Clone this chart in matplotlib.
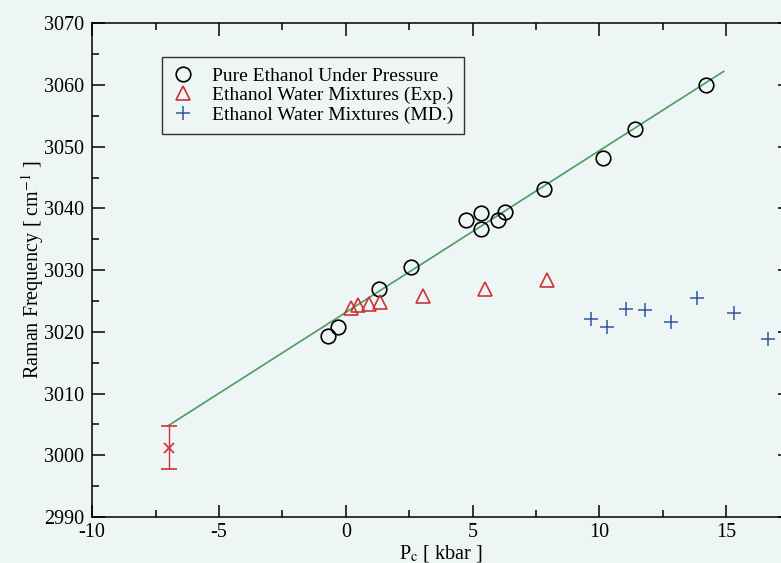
import numpy as np
import matplotlib
matplotlib.use('Agg')
import matplotlib.pyplot as plt
from matplotlib.ticker import MultipleLocator

plt.rcParams['font.family'] = ['Liberation Serif', 'DejaVu Serif']
plt.rcParams['mathtext.fontset'] = 'stix'
plt.rcParams['axes.unicode_minus'] = False

# 純乙醇加壓
pure_x = [-0.71, -0.32, 1.30, 2.57, 4.74, 5.34, 5.34, 6.00, 6.28, 7.81, 10.14, 11.42, 14.19]
pure_y = [3019.3, 3020.8, 3027.0, 3030.5, 3038.2, 3039.2, 3036.6, 3038.1, 3039.4, 3043.1, 3048.1, 3052.8, 3060.0]

# 乙醇水混合物 (實驗)
exp_x = [0.20, 0.47, 0.90, 1.34, 3.04, 5.49, 7.94]
exp_y = [3023.8, 3024.3, 3024.5, 3024.8, 3025.8, 3026.9, 3028.4]

# 乙醇水混合物 (MD)
md_x = [9.68, 10.32, 11.03, 11.78, 12.81, 13.83, 15.30, 16.64]
md_y = [3022.1, 3020.8, 3023.7, 3023.5, 3021.6, 3025.5, 3023.0, 3018.8]

# 擬合直線端點
fit_x = [-7.0, 14.9]
fit_y = [3004.8, 3062.2]

# 誤差棒點
err_x = [-6.96]
err_y = [3001.2]
err_e = [3.5]

bg = '#eef6f5'
fig = plt.figure(figsize=(7.81, 5.63), dpi=100, facecolor=bg)
ax = fig.add_axes([0.118, 0.0817, 0.893, 0.877], facecolor=bg)

ax.plot(fit_x, fit_y, color='#4f9a5e', lw=1.2, zorder=2)
ax.plot(pure_x, pure_y, 'o', ms=10.5, mfc='none', mec='black', mew=1.2,
        label='Pure Ethanol Under Pressure', zorder=3)
ax.plot(exp_x, exp_y, '^', ms=9.5, mfc='none', mec='#cc3333', mew=1.2,
        label='Ethanol Water Mixtures (Exp.)', zorder=3)
ax.plot(md_x, md_y, '+', ms=10, color='#33559e', mew=1.1,
        label='Ethanol Water Mixtures (MD.)', zorder=3)
ax.errorbar(err_x, err_y, yerr=err_e, fmt='x', color='#cc3333', ms=7, mew=1.2,
            ecolor='#cc3333', elinewidth=1.0, capsize=6, capthick=1.2, zorder=3)

ax.set_xlim(-10, 17.5)
ax.set_ylim(2990, 3070)
ax.xaxis.set_major_locator(MultipleLocator(5))
ax.xaxis.set_minor_locator(MultipleLocator(2.5))
ax.yaxis.set_major_locator(MultipleLocator(10))
ax.yaxis.set_minor_locator(MultipleLocator(5))
ax.tick_params(which='both', direction='in', top=True, right=True, labelsize=14.5, width=1.1)
ax.tick_params(which='major', length=9)
ax.tick_params(which='minor', length=5)
ax.tick_params(axis='y', pad=6)
ax.tick_params(axis='x', pad=4)
for s in ax.spines.values():
    s.set_linewidth(1.1)

ax.set_xlabel(r'P$_\mathrm{c}$ [ kbar ]', fontsize=14.5, labelpad=1)
ax.set_ylabel(r'Raman Frequency [ cm$^{-1}$ ]', fontsize=14.5, labelpad=-2)

leg = ax.legend(loc='upper left', bbox_to_anchor=(0.1, 0.931), borderaxespad=0,
                fontsize=14, frameon=True, fancybox=False, handlelength=1.2,
                handletextpad=0.9, labelspacing=0.1, borderpad=0.5)
leg.get_frame().set_edgecolor('black')
leg.get_frame().set_linewidth(1.0)
leg.get_frame().set_facecolor(bg)

fig.savefig('out.png', dpi=100, facecolor=bg)
